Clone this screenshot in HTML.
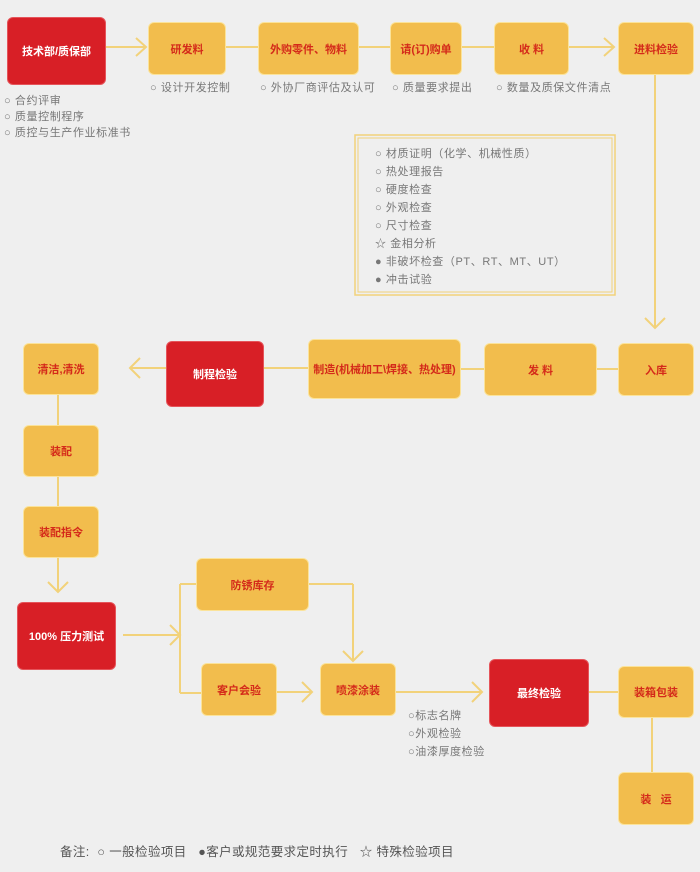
<!DOCTYPE html>
<html><head><meta charset="utf-8"><style>
body{margin:0;width:700px;height:872px;background:#efefef;position:relative;overflow:hidden;font-family:"Liberation Sans","Noto Sans CJK SC",sans-serif}
.b{position:absolute;background:#f2bd4d;border:1.5px solid #fbe39a;border-radius:6px;box-sizing:border-box;display:flex;align-items:center;justify-content:center;color:#d42a1a;font-weight:bold;font-size:11px;text-align:center}
.r{background:#d81f26;border-color:#e5545a;color:#fff}
.t{position:absolute;color:#777;font-size:11px;white-space:nowrap;line-height:16px;letter-spacing:0.6px}
svg{position:absolute;left:0;top:0}
</style></head><body>
<svg width="700" height="872" fill="none" stroke="#f2d27a" stroke-width="2">
<line x1="106" y1="47" x2="146" y2="47"/><polyline points="136,38 146,47 136,56"/>
<line x1="226" y1="47" x2="258" y2="47"/><line x1="359" y1="47" x2="390" y2="47"/><line x1="462" y1="47" x2="494" y2="47"/>
<line x1="569" y1="47" x2="614" y2="47"/><polyline points="604,38 614,47 604,56"/>
<line x1="655" y1="75" x2="655" y2="328"/><polyline points="645,318 655,328 665,318"/>
<rect x="355" y="135" width="260" height="160" stroke-width="1.5"/><rect x="358" y="138" width="254" height="154" stroke-width="1"/>
<line x1="597" y1="369" x2="618" y2="369"/><line x1="461" y1="369" x2="484" y2="369"/><line x1="264" y1="368" x2="308" y2="368"/>
<line x1="166" y1="368" x2="130" y2="368"/><polyline points="140,358 130,368 140,378"/>
<line x1="58" y1="395" x2="58" y2="425"/><line x1="58" y1="477" x2="58" y2="506"/>
<line x1="58" y1="558" x2="58" y2="592"/><polyline points="48,582 58,592 68,582"/>
<line x1="123" y1="635" x2="180" y2="635"/><polyline points="170,625 180,635 170,645"/>
<line x1="180" y1="584" x2="180" y2="693"/><line x1="180" y1="584" x2="196" y2="584"/><line x1="180" y1="693" x2="201" y2="693"/>
<line x1="309" y1="584" x2="353" y2="584"/><line x1="353" y1="584" x2="353" y2="661"/><polyline points="343,651 353,661 363,651"/>
<line x1="277" y1="692" x2="312" y2="692"/><polyline points="302,682 312,692 302,702"/>
<line x1="396" y1="692" x2="482" y2="692"/><polyline points="472,682 482,692 472,702"/>
<line x1="589" y1="692" x2="618" y2="692"/><line x1="652" y1="718" x2="652" y2="772"/>
</svg>
<div class="b r" style="left:7px;top:17px;width:99px;height:68px">技术部/质保部</div>
<div class="b" style="left:148px;top:22px;width:78px;height:53px">研发料</div>
<div class="b" style="left:258px;top:22px;width:101px;height:53px">外购零件、物料</div>
<div class="b" style="left:390px;top:22px;width:72px;height:53px">请(订)购单</div>
<div class="b" style="left:494px;top:22px;width:75px;height:53px">收 料</div>
<div class="b" style="left:618px;top:22px;width:76px;height:53px">进料检验</div>
<div class="t" style="left:150px;top:80px">○ 设计开发控制</div>
<div class="t" style="left:260px;top:80px">○ 外协厂商评估及认可</div>
<div class="t" style="left:392px;top:80px">○ 质量要求提出</div>
<div class="t" style="left:496px;top:80px">○ 数量及质保文件清点</div>
<div class="t" style="left:4px;top:93px">○ 合约评审<br>○ 质量控制程序<br>○ 质控与生产作业标准书</div>
<div class="t" style="left:375px;top:145px;line-height:18px">○ 材质证明（化学、机械性质）<br>○ 热处理报告<br>○ 硬度检查<br>○ 外观检查<br>○ 尺寸检查<br>☆ 金相分析<br>● 非破坏检查（PT、RT、MT、UT）<br>● 冲击试验</div>
<div class="b" style="left:618px;top:343px;width:76px;height:53px">入库</div>
<div class="b" style="left:484px;top:343px;width:113px;height:53px">发 料</div>
<div class="b" style="left:308px;top:339px;width:153px;height:60px">制造(机械加工\焊接、热处理)</div>
<div class="b r" style="left:166px;top:341px;width:98px;height:66px">制程检验</div>
<div class="b" style="left:23px;top:343px;width:76px;height:52px">清洁,清洗</div>
<div class="b" style="left:23px;top:425px;width:76px;height:52px">装配</div>
<div class="b" style="left:23px;top:506px;width:76px;height:52px">装配指令</div>
<div class="b r" style="left:17px;top:602px;width:99px;height:68px">100% 压力测试</div>
<div class="b" style="left:196px;top:558px;width:113px;height:53px">防锈库存</div>
<div class="b" style="left:201px;top:663px;width:76px;height:53px">客户会验</div>
<div class="b" style="left:320px;top:663px;width:76px;height:53px">喷漆涂装</div>
<div class="b r" style="left:489px;top:659px;width:100px;height:68px">最终检验</div>
<div class="b" style="left:618px;top:666px;width:76px;height:52px">装箱包装</div>
<div class="b" style="left:618px;top:772px;width:76px;height:53px">装&nbsp;&nbsp;&nbsp;运</div>
<div class="t" style="left:408px;top:707px;line-height:18px">○标志名牌<br>○外观检验<br>○油漆厚度检验</div>
<div class="t" style="left:60px;top:844px;font-size:12.5px;color:#555;letter-spacing:0.4px">备注:&nbsp; ○ 一般检验项目 &nbsp; ●客户或规范要求定时执行 &nbsp; ☆ 特殊检验项目</div>
</body></html>
